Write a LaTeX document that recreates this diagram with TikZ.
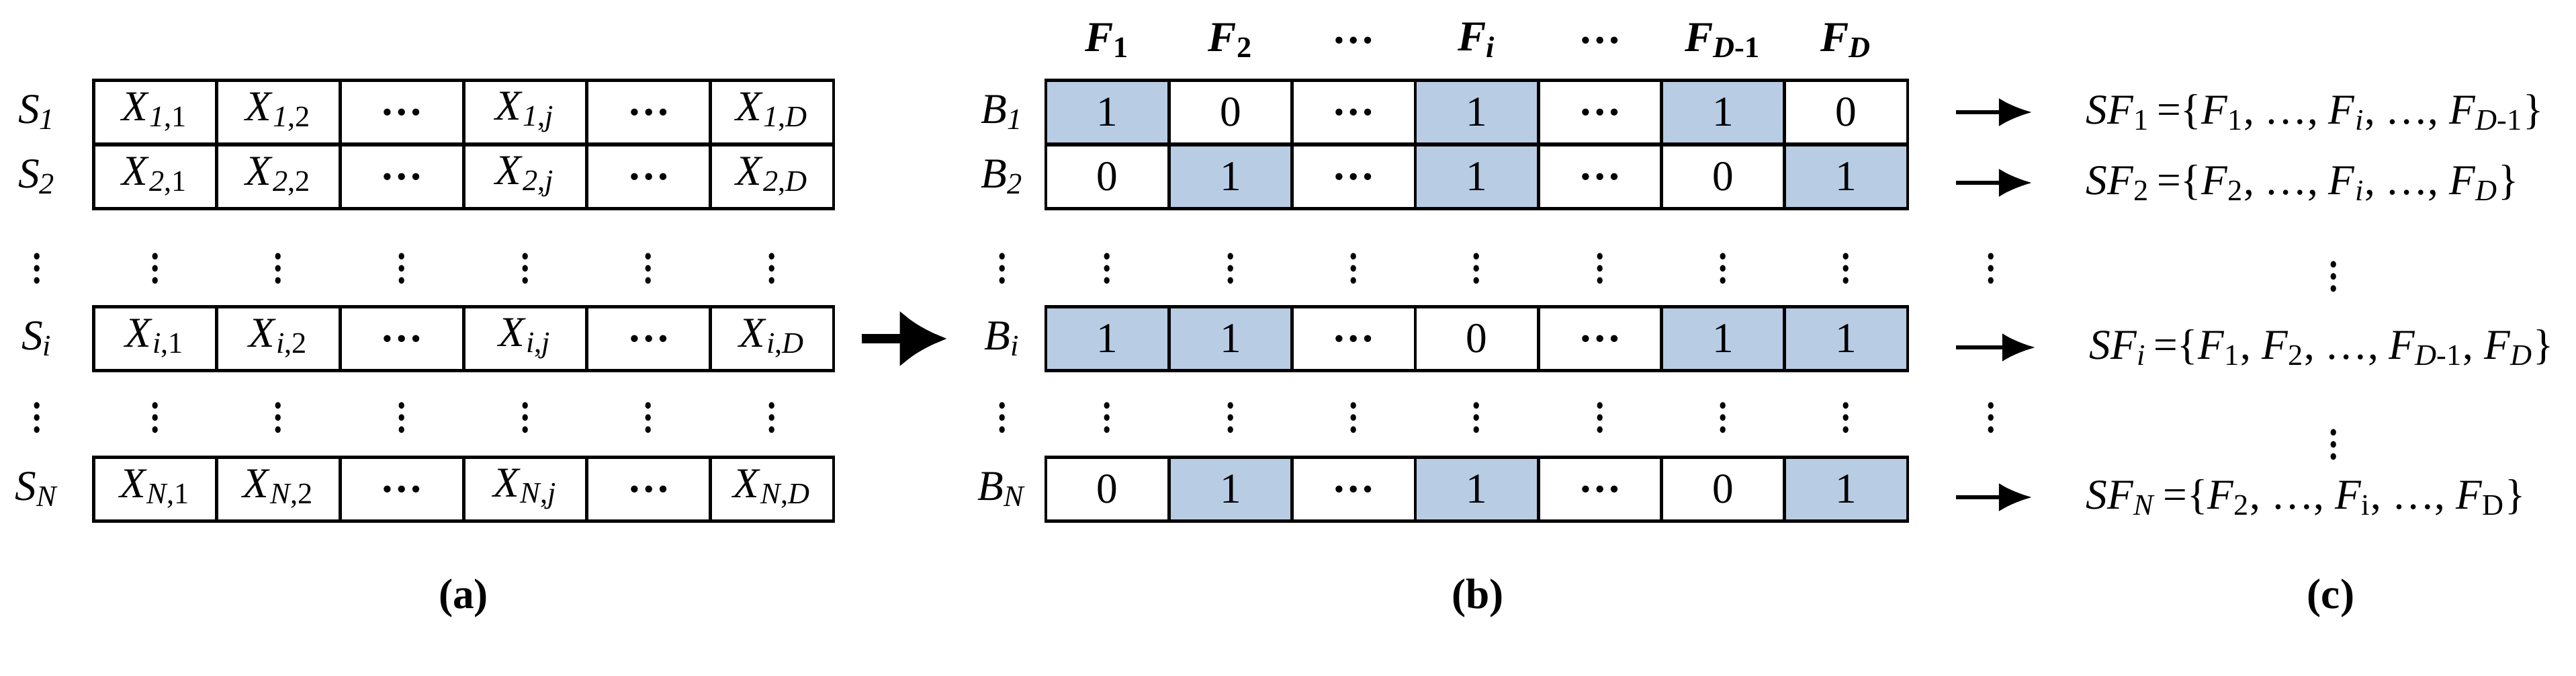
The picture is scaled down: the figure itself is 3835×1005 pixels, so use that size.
\documentclass[tikz,border=0pt]{standalone}
\usepackage{fontspec}
\setmainfont{Liberation Serif}
\usetikzlibrary{arrows.meta}
\definecolor{cellblue}{HTML}{B8CCE4}
\newcommand\sbs[1]{\textsubscript{#1}}
\newcommand\vd{\scalebox{1.1}[1.3]{$\boldsymbol{\vdots}$}}
\usepackage{amsmath,amssymb,graphicx}
\begin{document}
\begin{tikzpicture}[x=0.01cm,y=-0.01cm,
  every node/.style={font=\fontsize{18}{21}\selectfont},
  cellbox/.style={draw,line width=1.3pt,minimum width=1.83cm,minimum height=0.95cm,inner sep=0pt},
  bluecell/.style={cellbox,fill=cellblue},
  lbl/.style={inner sep=0pt},
  arr/.style={-{Latex[length=14pt,width=12pt]},line width=1.6pt},
  bigarr/.style={-{Latex[length=20pt,width=24pt]},line width=4pt}]
\fill[white] (0,0) rectangle (3835,1005);
% ---- left table ----
\def\rowys{167/1,263/2,504/i,728/N}
\foreach \y/\r in \rowys{
  \node[lbl] (S\r) at (55,\y) {\textit{S}\sbs{\textit{\r}}};
  \foreach \k/\t in {1/\textit{X}\sbs{\textit{\r},1},2/\textit{X}\sbs{\textit{\r},2},3/\textbf{…},4/\textit{X}\sbs{\textit{\r},\textit{j}},5/\textbf{…},6/\textit{X}\sbs{\textit{\r},\textit{D}}}{
    \node[cellbox] (X\r-\k) at ({139+183.7*(\k-0.5)},\y) {\t};
  }
}
\foreach \y in {386,608}{
  \node[lbl] at (55,\y) {\vd};
  \foreach \k in {1,...,6} \node[lbl] at ({139+183.7*(\k-0.5)},\y) {\vd};
}
% ---- headers ----
\foreach \k/\t in {1/\textbf{\textit{F}}\sbs{\textbf{1}},2/\textbf{\textit{F}}\sbs{\textbf{2}},3/\textbf{…},4/\textbf{\textit{F}}\sbs{\textbf{\textit{i}}},5/\textbf{…},6/\textbf{\textit{F}}\sbs{\textbf{\textit{D}-1}},7/\textbf{\textit{F}}\sbs{\textbf{\textit{D}}}}{
  \node[lbl] (F\k) at ({1557+183.3*(\k-0.5)},60) {\t};
}
% ---- binary table ----
\newcommand\brow[3]{%
  \node[lbl] (B#2) at (1492,#1) {\textit{B}\sbs{\textit{#2}}};
  \foreach \k/\v/\c in {#3}{
    \node[\c] (B#2-\k) at ({1557+183.3*(\k-0.5)},#1) {\v};
  }}
\brow{167}{1}{1/1/bluecell,2/0/cellbox,3/\textbf{…}/cellbox,4/1/bluecell,5/\textbf{…}/cellbox,6/1/bluecell,7/0/cellbox}
\brow{263}{2}{1/0/cellbox,2/1/bluecell,3/\textbf{…}/cellbox,4/1/bluecell,5/\textbf{…}/cellbox,6/0/cellbox,7/1/bluecell}
\brow{504}{i}{1/1/bluecell,2/1/bluecell,3/\textbf{…}/cellbox,4/0/cellbox,5/\textbf{…}/cellbox,6/1/bluecell,7/1/bluecell}
\brow{728}{N}{1/0/cellbox,2/1/bluecell,3/\textbf{…}/cellbox,4/1/bluecell,5/\textbf{…}/cellbox,6/0/cellbox,7/1/bluecell}
\foreach \y in {386,608}{
  \node[lbl] at (1492,\y) {\vd};
  \foreach \k in {1,...,7} \node[lbl] at ({1557+183.3*(\k-0.5)},\y) {\vd};
  \node[lbl] at (2964,\y) {\vd};
}
\node[lbl] at (3474,398) {\vd};
\node[lbl] at (3474,648) {\vd};
% ---- SF sets ----
\node[lbl,anchor=west] (SF1) at (3105,167) {\textit{SF}\sbs{1}\,=\{\textit{F}\sbs{1}, …, \textit{F}\sbs{\textit{i}}, …, \textit{F}\sbs{\textit{D}-1}\}};
\node[lbl,anchor=west] (SF2) at (3105,272) {\textit{SF}\sbs{2}\,=\{\textit{F}\sbs{2}, …, \textit{F}\sbs{\textit{i}}, …, \textit{F}\sbs{\textit{D}}\}};
\node[lbl,anchor=west] (SFi) at (3110,517) {\textit{SF}\sbs{\textit{i}}\,=\{\textit{F}\sbs{1}, \textit{F}\sbs{2}, …, \textit{F}\sbs{\textit{D}-1}, \textit{F}\sbs{\textit{D}}\}};
\node[lbl,anchor=west] (SFN) at (3105,740) {\textit{SF}\sbs{\textit{N}}\,=\{\textit{F}\sbs{2}, …, \textit{F}\sbs{i}, …, \textit{F}\sbs{D}\}};
\foreach \r in {1,2,i,N}{
  \coordinate (a\r) at ([xshift=0.7cm]B\r-7.east);
  \draw[arr] (a\r |- SF\r.west) -- ([xshift=-0.8cm]SF\r.west);
}
% ---- big arrow ----
\coordinate (ba) at ([xshift=0.4cm]Xi-6.east);
\coordinate (bb) at ([xshift=-0.55cm]Bi.west);
\draw[bigarr] (ba) -- (bb);
% ---- captions ----
\node[lbl] (ca) at (690,890) {\textbf{(a)}};
\node[lbl] (cb) at (2200,890) {\textbf{(b)}};
\node[lbl] (cc) at (3470,890) {\textbf{(c)}};
\end{tikzpicture}
\end{document}
